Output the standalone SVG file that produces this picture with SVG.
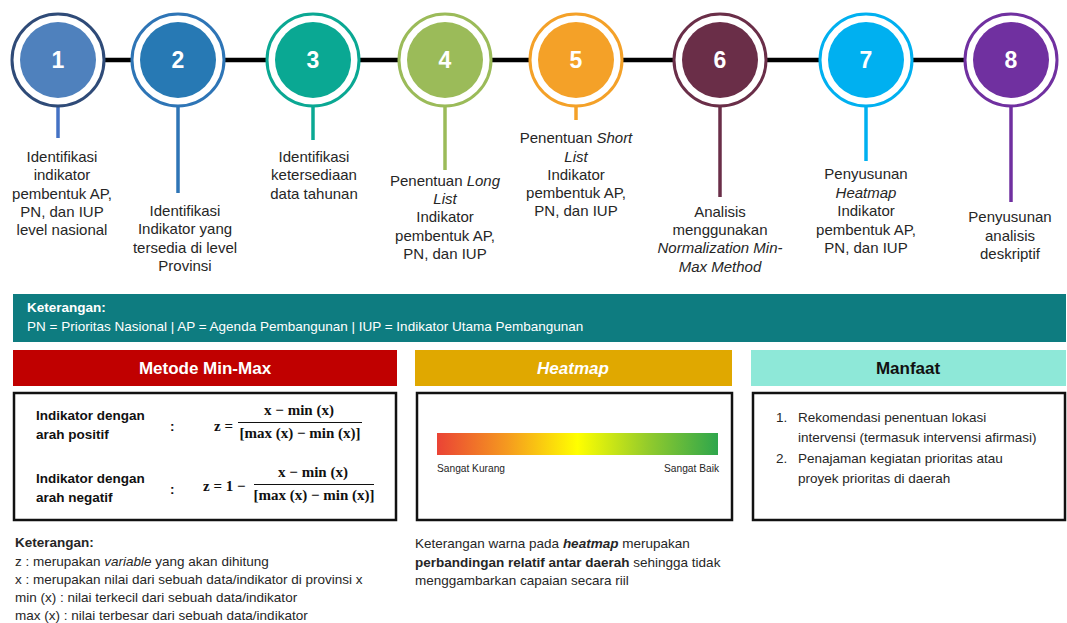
<svg xmlns="http://www.w3.org/2000/svg" width="1067" height="623" viewBox="0 0 1067 623">
<style>
.num{font-family:"Liberation Sans",Arial,sans-serif;font-weight:bold;font-size:23px;fill:#fff;text-anchor:middle}
.st{font-family:"Liberation Sans",Arial,sans-serif;font-size:15px;fill:#262626;text-anchor:middle}
.it{font-style:italic}
.sm{font-family:"Liberation Sans",Arial,sans-serif;font-size:13.5px;fill:#262626}
.b{font-weight:bold}
.hd{font-family:"Liberation Sans",Arial,sans-serif;font-weight:bold;font-size:17px;text-anchor:middle}
.fm{font-family:"Liberation Serif","Times New Roman",serif;font-weight:bold;font-size:15px;fill:#111}
.lb{font-family:"Liberation Sans",Arial,sans-serif;font-weight:bold;font-size:13.5px;fill:#111}
.box{fill:#fff;stroke:#111;stroke-width:2.5}
.ring{fill:#fff;stroke-width:3}
.stem{stroke-width:3.5;fill:none}
</style>
<defs>
<linearGradient id="heat" x1="0" y1="0" x2="1" y2="0">
<stop offset="0" stop-color="#EA4335"/>
<stop offset="0.25" stop-color="#F59A1F"/>
<stop offset="0.5" stop-color="#FFFF00"/>
<stop offset="0.75" stop-color="#93CB2C"/>
<stop offset="1" stop-color="#2EA64C"/>
</linearGradient>
</defs>
<rect width="1067" height="623" fill="#fff"/>
<g id="connectors">
<line x1="58" y1="60" x2="1011" y2="60" stroke="#000" stroke-width="4.5"/>
<line class="stem" x1="58" y1="106" x2="58" y2="138" stroke="#4472C4"/>
<line class="stem" x1="178" y1="106" x2="178" y2="193" stroke="#2E75B6"/>
<line class="stem" x1="313" y1="106" x2="313" y2="140" stroke="#0AA893"/>
<line class="stem" x1="445" y1="106" x2="445" y2="170" stroke="#9BBB59"/>
<line class="stem" x1="576" y1="106" x2="576" y2="120" stroke="#F4A128"/>
<line class="stem" x1="720" y1="106" x2="720" y2="197" stroke="#6A2E48"/>
<line class="stem" x1="866" y1="106" x2="866" y2="161" stroke="#00B0F0"/>
<line class="stem" x1="1011" y1="106" x2="1011" y2="202" stroke="#7030A0"/>
</g>
<g id="step1">
<circle class="ring" cx="58" cy="60" r="46" stroke="#2F4B78"/>
<circle cx="58" cy="60" r="38" fill="#4F81BD"/>
<text class="num" x="58" y="68">1</text>
<text class="st"><tspan x="62" y="162">Identifikasi</tspan><tspan x="62" y="180">indikator</tspan><tspan x="62" y="199">pembentuk AP,</tspan><tspan x="62" y="217">PN, dan IUP</tspan><tspan x="62" y="235">level nasional</tspan></text>
</g>
<g id="step2">
<circle class="ring" cx="178" cy="60" r="46" stroke="#2E75B6"/>
<circle cx="178" cy="60" r="38" fill="#2779B4"/>
<text class="num" x="178" y="68">2</text>
<text class="st"><tspan x="185" y="216">Identifikasi</tspan><tspan x="185" y="234">Indikator yang</tspan><tspan x="185" y="253">tersedia di level</tspan><tspan x="185" y="271">Provinsi</tspan></text>
</g>
<g id="step3">
<circle class="ring" cx="313" cy="60" r="46" stroke="#0AA893"/>
<circle cx="313" cy="60" r="38" fill="#0AA893"/>
<text class="num" x="313" y="68">3</text>
<text class="st"><tspan x="314" y="162">Identifikasi</tspan><tspan x="314" y="180">ketersediaan</tspan><tspan x="314" y="199">data tahunan</tspan></text>
</g>
<g id="step4">
<circle class="ring" cx="445" cy="60" r="46" stroke="#9BBB59"/>
<circle cx="445" cy="60" r="38" fill="#9BBB59"/>
<text class="num" x="445" y="68">4</text>
<text class="st"><tspan x="445" y="186">Penentuan <tspan class="it">Long</tspan></tspan><tspan x="445" y="204" class="it">List</tspan><tspan x="445" y="222">Indikator</tspan><tspan x="445" y="241">pembentuk AP,</tspan><tspan x="445" y="259">PN, dan IUP</tspan></text>
</g>
<g id="step5">
<circle class="ring" cx="576" cy="60" r="46" stroke="#F4A128"/>
<circle cx="576" cy="60" r="38" fill="#F4A128"/>
<text class="num" x="576" y="68">5</text>
<text class="st"><tspan x="576" y="143">Penentuan <tspan class="it">Short</tspan></tspan><tspan x="576" y="162" class="it">List</tspan><tspan x="576" y="180">Indikator</tspan><tspan x="576" y="198">pembentuk AP,</tspan><tspan x="576" y="216">PN, dan IUP</tspan></text>
</g>
<g id="step6">
<circle class="ring" cx="720" cy="60" r="46" stroke="#6A2E48"/>
<circle cx="720" cy="60" r="38" fill="#6A2E48"/>
<text class="num" x="720" y="68">6</text>
<text class="st"><tspan x="720" y="217">Analisis</tspan><tspan x="720" y="235">menggunakan</tspan><tspan x="720" y="253" class="it">Normalization Min-</tspan><tspan x="720" y="272" class="it">Max Method</tspan></text>
</g>
<g id="step7">
<circle class="ring" cx="866" cy="60" r="46" stroke="#00B0F0"/>
<circle cx="866" cy="60" r="38" fill="#00B0F0"/>
<text class="num" x="866" y="68">7</text>
<text class="st"><tspan x="866" y="179">Penyusunan</tspan><tspan x="866" y="198" class="it">Heatmap</tspan><tspan x="866" y="216">Indikator</tspan><tspan x="866" y="235">pembentuk AP,</tspan><tspan x="866" y="253">PN, dan IUP</tspan></text>
</g>
<g id="step8">
<circle class="ring" cx="1011" cy="60" r="46" stroke="#7030A0"/>
<circle cx="1011" cy="60" r="38" fill="#7030A0"/>
<text class="num" x="1011" y="68">8</text>
<text class="st"><tspan x="1010" y="222">Penyusunan</tspan><tspan x="1010" y="241">analisis</tspan><tspan x="1010" y="259">deskriptif</tspan></text>
</g>
<g id="legend">
<rect x="13" y="294" width="1053" height="48" fill="#0E7C80"/>
<text class="sm b" x="27" y="312" style="fill:#fff">Keterangan:</text>
<text class="sm" x="27" y="331" style="fill:#fff">PN = Prioritas Nasional | AP = Agenda Pembangunan | IUP = Indikator Utama Pembangunan</text>
</g>
<g id="minmax">
<rect x="13" y="350" width="384" height="36" fill="#C00000"/>
<text class="hd" x="205" y="374" fill="#fff">Metode Min-Max</text>
<rect class="box" x="14" y="393" width="382" height="127"/>
<text class="lb"><tspan x="36" y="420">Indikator dengan</tspan><tspan x="36" y="439">arah positif</tspan></text>
<text class="lb" x="170" y="431">:</text>
<text class="fm" x="214" y="431">z =</text>
<text class="fm" x="299" y="415" text-anchor="middle">x − min (x)</text>
<line x1="238" y1="422.5" x2="362" y2="422.5" stroke="#111" stroke-width="1"/>
<text class="fm" x="300" y="438" text-anchor="middle">[max (x) − min (x)]</text>
<text class="lb"><tspan x="36" y="483">Indikator dengan</tspan><tspan x="36" y="502">arah negatif</tspan></text>
<text class="lb" x="170" y="494">:</text>
<text class="fm" x="203" y="491">z = 1 −</text>
<text class="fm" x="313" y="477" text-anchor="middle">x − min (x)</text>
<line x1="254" y1="484.5" x2="374" y2="484.5" stroke="#111" stroke-width="1"/>
<text class="fm" x="314" y="500" text-anchor="middle">[max (x) − min (x)]</text>
<text class="sm"><tspan x="15" y="547" class="b">Keterangan:</tspan><tspan x="15" y="566">z : merupakan <tspan class="it">variable</tspan> yang akan dihitung</tspan><tspan x="15" y="584">x : merupakan nilai dari sebuah data/indikator di provinsi x</tspan><tspan x="15" y="602">min (x) : nilai terkecil dari sebuah data/indikator</tspan><tspan x="15" y="620">max (x) : nilai terbesar dari sebuah data/indikator</tspan></text>
</g>
<g id="heatmap">
<rect x="415" y="350" width="317" height="36" fill="#E0A800"/>
<text class="hd it" x="573" y="374" fill="#fff">Heatmap</text>
<rect class="box" x="417" y="393" width="315" height="127"/>
<rect x="437" y="433" width="281" height="22" fill="url(#heat)"/>
<text class="sm" x="437" y="472" style="font-size:10.2px">Sangat Kurang</text>
<text class="sm" x="719" y="472" text-anchor="end" style="font-size:10.2px">Sangat Baik</text>
<text class="sm"><tspan x="415" y="548">Keterangan warna pada <tspan class="b it">heatmap</tspan> merupakan</tspan><tspan x="415" y="567"><tspan class="b">perbandingan relatif antar daerah</tspan> sehingga tidak</tspan><tspan x="415" y="585">menggambarkan capaian secara riil</tspan></text>
</g>
<g id="manfaat">
<rect x="751" y="350" width="315" height="36" fill="#8EE8D8"/>
<text class="hd" x="908" y="374" fill="#111">Manfaat</text>
<rect class="box" x="753" y="393" width="312" height="127"/>
<text class="sm"><tspan x="776" y="422">1.</tspan><tspan x="798" y="422">Rekomendasi penentuan lokasi</tspan><tspan x="798" y="442">intervensi (termasuk intervensi afirmasi)</tspan><tspan x="776" y="463">2.</tspan><tspan x="798" y="463">Penajaman kegiatan prioritas atau</tspan><tspan x="798" y="483">proyek prioritas di daerah</tspan></text>
</g>
</svg>
